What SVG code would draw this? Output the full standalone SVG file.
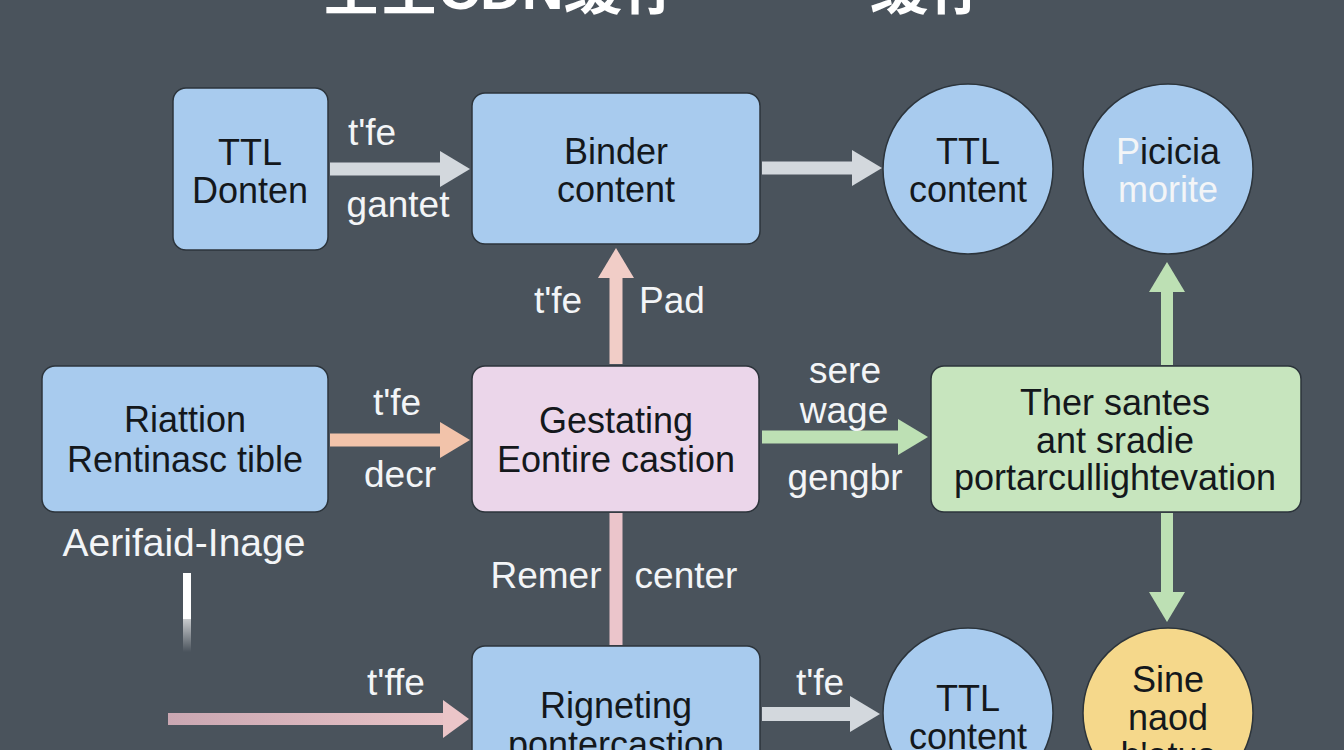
<svg xmlns="http://www.w3.org/2000/svg" width="1344" height="750" viewBox="0 0 1344 750">
<defs>
<style>
.bg{fill:#4a535c}
.box{stroke:#2c343b;stroke-width:1.5}
.blue{fill:#a8cbee}
.pink{fill:#ebd6ea}
.green{fill:#c7e5be}
.yellow{fill:#f5d88b}
.nt{font-family:"Liberation Sans",Arial,sans-serif;font-size:36px;fill:#14181c;text-anchor:middle}
.lb{font-family:"Liberation Sans",Arial,sans-serif;font-size:37px;fill:#f3f5f7;text-anchor:middle}
.title{font-family:"Liberation Sans","Noto Sans CJK SC",sans-serif;font-size:58px;font-weight:bold;fill:#ffffff}
.c{fill:none;stroke-linecap:butt}
</style>
<marker id="hGrey" markerUnits="userSpaceOnUse" markerWidth="30" markerHeight="36" refX="0" refY="18" orient="auto"><path d="M0,0 L30,18 L0,36 z" fill="#d3d8dd"/></marker>
<marker id="hPeach" markerUnits="userSpaceOnUse" markerWidth="30" markerHeight="36" refX="0" refY="18" orient="auto"><path d="M0,0 L30,18 L0,36 z" fill="#f2c3aa"/></marker>
<marker id="hPink" markerUnits="userSpaceOnUse" markerWidth="30" markerHeight="36" refX="0" refY="18" orient="auto"><path d="M0,0 L30,18 L0,36 z" fill="#f1cdc7"/></marker>
<marker id="hPink2" markerUnits="userSpaceOnUse" markerWidth="26" markerHeight="38" refX="0" refY="19" orient="auto"><path d="M0,0 L26,19 L0,38 z" fill="#ebc5c8"/></marker>
<marker id="hGreen" markerUnits="userSpaceOnUse" markerWidth="30" markerHeight="36" refX="0" refY="18" orient="auto"><path d="M0,0 L30,18 L0,36 z" fill="#bde0b4"/></marker>
<linearGradient id="gPink" gradientUnits="userSpaceOnUse" x1="168" y1="0" x2="468" y2="0"><stop offset="0" stop-color="#caa7b2"/><stop offset="1" stop-color="#ebc5c8"/></linearGradient>
<linearGradient id="gFade" x1="0" y1="0" x2="0" y2="1"><stop offset="0" stop-color="#ffffff" stop-opacity="0.7"/><stop offset="1" stop-color="#ffffff" stop-opacity="0"/></linearGradient>
</defs>
<rect class="bg" x="0" y="0" width="1344" height="750"/>

<g id="title">
<text class="title" x="322" y="9">全全CDN缓存</text>
<text class="title" x="870" y="9">缓存</text>
</g>

<g id="connectors">
<line class="c" x1="330" y1="169" x2="440" y2="169" stroke="#d3d8dd" stroke-width="13" marker-end="url(#hGrey)"/>
<line class="c" x1="762" y1="168" x2="852" y2="168" stroke="#d3d8dd" stroke-width="13" marker-end="url(#hGrey)"/>
<line class="c" x1="616" y1="364" x2="616" y2="278" stroke="#f1cdc7" stroke-width="13" marker-end="url(#hPink)"/>
<line class="c" x1="330" y1="440" x2="440" y2="440" stroke="#f2c3aa" stroke-width="13" marker-end="url(#hPeach)"/>
<line class="c" x1="762" y1="437" x2="898" y2="437" stroke="#bde0b4" stroke-width="13" marker-end="url(#hGreen)"/>
<line class="c" x1="1167" y1="365" x2="1167" y2="292" stroke="#bde0b4" stroke-width="12" marker-end="url(#hGreen)"/>
<line class="c" x1="1167" y1="513" x2="1167" y2="592" stroke="#bde0b4" stroke-width="12" marker-end="url(#hGreen)"/>
<line class="c" x1="616" y1="513" x2="616" y2="645" stroke="#ebc5cb" stroke-width="13"/>
<line class="c" x1="168" y1="719" x2="443" y2="719" stroke="url(#gPink)" stroke-width="12" marker-end="url(#hPink2)"/>
<line class="c" x1="762" y1="714" x2="850" y2="714" stroke="#d3d8dd" stroke-width="14" marker-end="url(#hGrey)"/>
</g>

<g id="labels">
<text class="lb" x="372" y="145">t'fe</text>
<text class="lb" x="398" y="217">gantet</text>
<text class="lb" x="397" y="415">t'fe</text>
<text class="lb" x="400" y="487">decr</text>
<text class="lb" x="558" y="313">t'fe</text>
<text class="lb" x="672" y="313">Pad</text>
<text class="lb" x="845" y="383">sere</text>
<text class="lb" x="844" y="423">wage</text>
<text class="lb" x="845" y="490">gengbr</text>
<text class="lb" x="546" y="588">Remer</text>
<text class="lb" x="686" y="588">center</text>
<text class="lb" x="396" y="695">t'ffe</text>
<text class="lb" x="820" y="695">t'fe</text>
</g>

<g id="aerifaid">
<text class="lb" x="184" y="556" style="font-size:39px">Aerifaid-Inage</text>
<rect x="183" y="573" width="8" height="46" fill="#ffffff"/>
<rect x="183" y="619" width="8" height="33" fill="url(#gFade)"/>
</g>

<g id="ttl-donten">
<rect class="box blue" x="173" y="88" width="155" height="162" rx="13"/>
<text class="nt" x="250" y="165">TTL</text>
<text class="nt" x="250" y="203">Donten</text>
</g>

<g id="binder-content">
<rect class="box blue" x="472" y="93" width="288" height="151" rx="13"/>
<text class="nt" x="616" y="164">Binder</text>
<text class="nt" x="616" y="202">content</text>
</g>

<g id="ttl-content-top">
<circle class="box blue" cx="968" cy="169" r="85"/>
<text class="nt" x="968" y="164">TTL</text>
<text class="nt" x="968" y="202">content</text>
</g>

<g id="picicia-morite">
<circle class="box blue" cx="1168" cy="169" r="85"/>
<text class="nt" x="1168" y="164"><tspan fill="#f3f5f7">P</tspan>icicia</text>
<text class="nt" x="1168" y="202" style="fill:#f3f5f7">morite</text>
</g>

<g id="riattion">
<rect class="box blue" x="42" y="366" width="286" height="146" rx="13"/>
<text class="nt" x="185" y="432">Riattion</text>
<text class="nt" x="185" y="472">Rentinasc tible</text>
</g>

<g id="gestating">
<rect class="box pink" x="472" y="366" width="287" height="146" rx="13"/>
<text class="nt" x="616" y="433">Gestating</text>
<text class="nt" x="616" y="472">Eontire castion</text>
</g>

<g id="ther-santes">
<rect class="box green" x="931" y="366" width="370" height="146" rx="13"/>
<text class="nt" x="1115" y="415">Ther santes</text>
<text class="nt" x="1115" y="453">ant sradie</text>
<text class="nt" x="1115" y="490">portarcullightevation</text>
</g>

<g id="rigneting">
<rect class="box blue" x="472" y="646" width="288" height="130" rx="13"/>
<text class="nt" x="616" y="718">Rigneting</text>
<text class="nt" x="616" y="757">pontercastion</text>
</g>

<g id="ttl-content-bottom">
<circle class="box blue" cx="968" cy="713" r="85"/>
<text class="nt" x="968" y="711">TTL</text>
<text class="nt" x="968" y="749">content</text>
</g>

<g id="sine-naod">
<circle class="box yellow" cx="1168" cy="713" r="85"/>
<text class="nt" x="1168" y="692">Sine</text>
<text class="nt" x="1168" y="730">naod</text>
<text class="nt" x="1168" y="768">h'atus</text>
</g>
</svg>
